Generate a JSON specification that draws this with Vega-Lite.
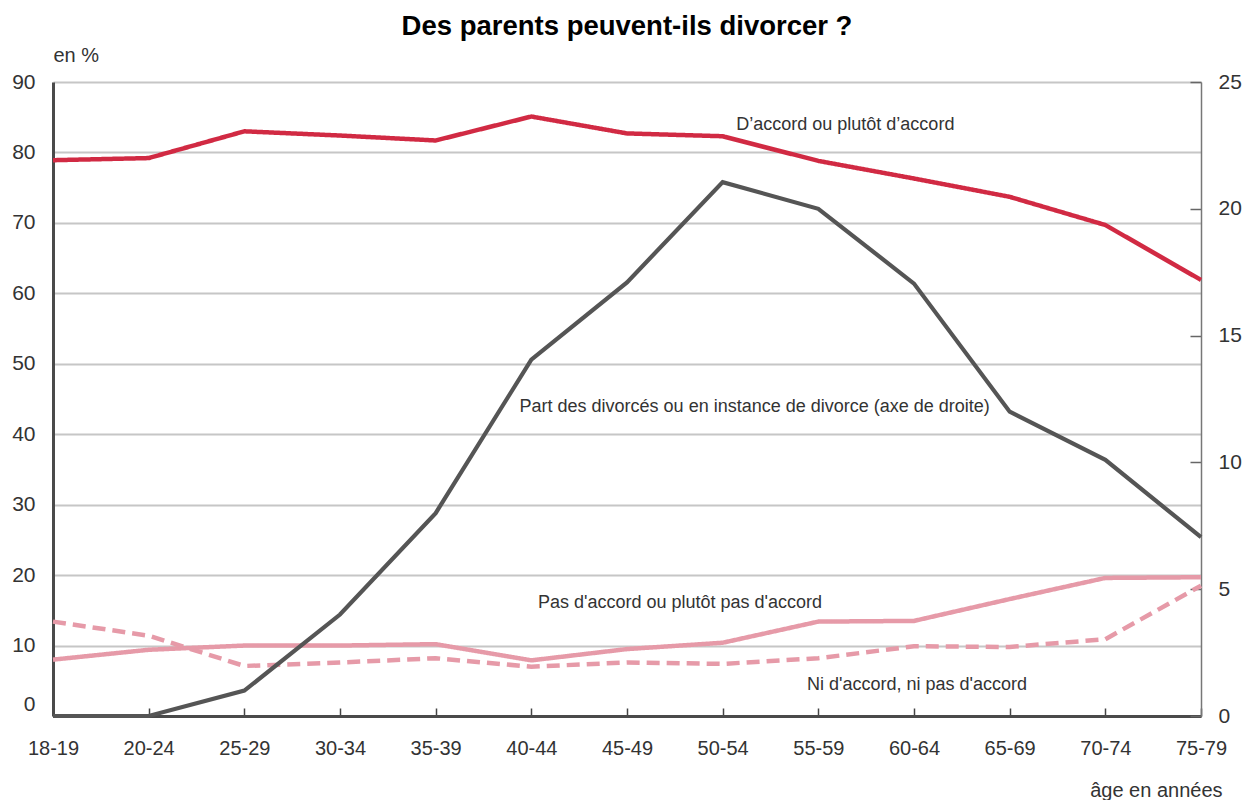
{
  "$schema": "https://vega.github.io/schema/vega-lite/v6.json",
  "width": 1148,
  "height": 634,
  "autosize": {"type": "none"},
  "padding": {"left": 53, "top": 82, "right": 42, "bottom": 84},
  "background": "white",
  "config": {"view": {"stroke": null}, "font": "Liberation Sans"},
  "title": {
    "text": "Des parents peuvent-ils divorcer ?",
    "anchor": "middle",
    "frame": "group",
    "baseline": "middle",
    "offset": 0,
    "dy": 9,
    "font": "Liberation Sans",
    "fontSize": 27.5,
    "fontWeight": "bold",
    "color": "#000000"
  },
  "datasets": {
    "opinions": [
      {"age": "18-19", "series": "D'accord ou plutôt d'accord", "value": 78.9},
      {"age": "20-24", "series": "D'accord ou plutôt d'accord", "value": 79.2},
      {"age": "25-29", "series": "D'accord ou plutôt d'accord", "value": 83.0},
      {"age": "30-34", "series": "D'accord ou plutôt d'accord", "value": 82.4},
      {"age": "35-39", "series": "D'accord ou plutôt d'accord", "value": 81.7},
      {"age": "40-44", "series": "D'accord ou plutôt d'accord", "value": 85.1},
      {"age": "45-49", "series": "D'accord ou plutôt d'accord", "value": 82.7},
      {"age": "50-54", "series": "D'accord ou plutôt d'accord", "value": 82.3},
      {"age": "55-59", "series": "D'accord ou plutôt d'accord", "value": 78.8},
      {"age": "60-64", "series": "D'accord ou plutôt d'accord", "value": 76.3},
      {"age": "65-69", "series": "D'accord ou plutôt d'accord", "value": 73.7},
      {"age": "70-74", "series": "D'accord ou plutôt d'accord", "value": 69.7},
      {"age": "75-79", "series": "D'accord ou plutôt d'accord", "value": 61.9},
      {"age": "18-19", "series": "Pas d'accord ou plutôt pas d'accord", "value": 8.0},
      {"age": "20-24", "series": "Pas d'accord ou plutôt pas d'accord", "value": 9.4},
      {"age": "25-29", "series": "Pas d'accord ou plutôt pas d'accord", "value": 10.0},
      {"age": "30-34", "series": "Pas d'accord ou plutôt pas d'accord", "value": 10.0},
      {"age": "35-39", "series": "Pas d'accord ou plutôt pas d'accord", "value": 10.2},
      {"age": "40-44", "series": "Pas d'accord ou plutôt pas d'accord", "value": 7.9},
      {"age": "45-49", "series": "Pas d'accord ou plutôt pas d'accord", "value": 9.5},
      {"age": "50-54", "series": "Pas d'accord ou plutôt pas d'accord", "value": 10.4},
      {"age": "55-59", "series": "Pas d'accord ou plutôt pas d'accord", "value": 13.4},
      {"age": "60-64", "series": "Pas d'accord ou plutôt pas d'accord", "value": 13.5},
      {"age": "65-69", "series": "Pas d'accord ou plutôt pas d'accord", "value": 16.6},
      {"age": "70-74", "series": "Pas d'accord ou plutôt pas d'accord", "value": 19.6},
      {"age": "75-79", "series": "Pas d'accord ou plutôt pas d'accord", "value": 19.7},
      {"age": "18-19", "series": "Ni d'accord, ni pas d'accord", "value": 13.4},
      {"age": "20-24", "series": "Ni d'accord, ni pas d'accord", "value": 11.4},
      {"age": "25-29", "series": "Ni d'accord, ni pas d'accord", "value": 7.1},
      {"age": "30-34", "series": "Ni d'accord, ni pas d'accord", "value": 7.6},
      {"age": "35-39", "series": "Ni d'accord, ni pas d'accord", "value": 8.2},
      {"age": "40-44", "series": "Ni d'accord, ni pas d'accord", "value": 7.0},
      {"age": "45-49", "series": "Ni d'accord, ni pas d'accord", "value": 7.6},
      {"age": "50-54", "series": "Ni d'accord, ni pas d'accord", "value": 7.4},
      {"age": "55-59", "series": "Ni d'accord, ni pas d'accord", "value": 8.2},
      {"age": "60-64", "series": "Ni d'accord, ni pas d'accord", "value": 9.9},
      {"age": "65-69", "series": "Ni d'accord, ni pas d'accord", "value": 9.8},
      {"age": "70-74", "series": "Ni d'accord, ni pas d'accord", "value": 10.9},
      {"age": "75-79", "series": "Ni d'accord, ni pas d'accord", "value": 18.5}
    ],
    "divorce": [
      {"age": "18-19", "share": 0},
      {"age": "20-24", "share": 0},
      {"age": "25-29", "share": 1.0},
      {"age": "30-34", "share": 4.0},
      {"age": "35-39", "share": 8.0},
      {"age": "40-44", "share": 14.05},
      {"age": "45-49", "share": 17.1},
      {"age": "50-54", "share": 21.05},
      {"age": "55-59", "share": 20.0},
      {"age": "60-64", "share": 17.05},
      {"age": "65-69", "share": 12.0},
      {"age": "70-74", "share": 10.1},
      {"age": "75-79", "share": 7.05}
    ],
    "labels": [
      {"age": "55-59", "value": 83.9, "label": "D’accord ou plutôt d’accord"},
      {"age": "50-54", "value": 43.9, "label": "Part des divorcés ou en instance de divorce (axe de droite)"},
      {"age": "45-49", "value": 16.0, "label": "Pas d'accord ou plutôt pas d'accord"},
      {"age": "60-64", "value": 4.4, "label": "Ni d'accord, ni pas d'accord"}
    ]
  },
  "encoding": {
    "x": {
      "field": "age",
      "type": "ordinal",
      "sort": ["18-19", "20-24", "25-29", "30-34", "35-39", "40-44", "45-49", "50-54", "55-59", "60-64", "65-69", "70-74", "75-79"],
      "scale": {"type": "point", "padding": 0},
      "axis": {
        "orient": "bottom",
        "labelAngle": 0,
        "labelFont": "Liberation Sans",
        "labelFontSize": 20,
        "labelColor": "#333333",
        "labelBaseline": "middle",
        "labelPadding": 40,
        "ticks": true,
        "tickSize": -8,
        "tickColor": "#444444",
        "tickWidth": 1.5,
        "domainColor": "#4a4a4a",
        "domainWidth": 3,
        "grid": false,
        "title": "âge en années",
        "titleFont": "Liberation Sans",
        "titleFontSize": 20,
        "titleFontWeight": "normal",
        "titleColor": "#333333",
        "titleAlign": "right",
        "titleBaseline": "middle",
        "titleX": 1169,
        "titleY": 74
      }
    }
  },
  "layer": [
    {
      "encoding": {
        "y": {
          "field": "value",
          "type": "quantitative",
          "scale": {"domain": [0, 90], "nice": false, "zero": true},
          "axis": {
            "orient": "left",
            "values": [0, 10, 20, 30, 40, 50, 60, 70, 80, 90],
            "grid": true,
            "gridColor": "#c6c6c6",
            "gridWidth": 2,
            "ticks": false,
            "domain": true,
            "domainColor": "#4a4a4a",
            "domainWidth": 3,
            "labelFont": "Liberation Sans",
            "labelFontSize": 21,
            "labelColor": "#333333",
            "labelPadding": 18,
            "labelOffset": {"condition": {"test": "datum.value == 0", "value": -12}, "value": 0},
            "title": "en %",
            "titleAngle": 0,
            "titleAlign": "left",
            "titleBaseline": "middle",
            "titleX": 0,
            "titleY": -27,
            "titleFont": "Liberation Sans",
            "titleFontSize": 20,
            "titleFontWeight": "normal",
            "titleColor": "#333333"
          }
        }
      },
      "layer": [
        {
          "data": {"name": "opinions"},
          "mark": {"type": "line", "strokeWidth": 4.5, "strokeCap": "butt"},
          "encoding": {
            "color": {
              "field": "series",
              "type": "nominal",
              "scale": {
                "domain": ["D'accord ou plutôt d'accord", "Pas d'accord ou plutôt pas d'accord", "Ni d'accord, ni pas d'accord"],
                "range": ["#d12a43", "#e69aa8", "#e69aa8"]
              },
              "legend": null
            },
            "strokeDash": {
              "field": "series",
              "type": "nominal",
              "scale": {
                "domain": ["D'accord ou plutôt d'accord", "Pas d'accord ou plutôt pas d'accord", "Ni d'accord, ni pas d'accord"],
                "range": [[1, 0], [1, 0], [13, 7]]
              },
              "legend": null
            }
          }
        },
        {
          "data": {"name": "labels"},
          "transform": [{"filter": "datum.age == '55-59'"}],
          "mark": {"type": "text", "dx": 27, "align": "center", "baseline": "middle", "font": "Liberation Sans", "fontSize": 18, "color": "#333333"},
          "encoding": {"text": {"field": "label"}}
        },
        {
          "data": {"name": "labels"},
          "transform": [{"filter": "datum.age == '50-54'"}],
          "mark": {"type": "text", "dx": 32, "align": "center", "baseline": "middle", "font": "Liberation Sans", "fontSize": 18, "color": "#333333"},
          "encoding": {"text": {"field": "label"}}
        },
        {
          "data": {"name": "labels"},
          "transform": [{"filter": "datum.age == '45-49'"}],
          "mark": {"type": "text", "dx": 53, "align": "center", "baseline": "middle", "font": "Liberation Sans", "fontSize": 18, "color": "#333333"},
          "encoding": {"text": {"field": "label"}}
        },
        {
          "data": {"name": "labels"},
          "transform": [{"filter": "datum.age == '60-64'"}],
          "mark": {"type": "text", "dx": 3, "align": "center", "baseline": "middle", "font": "Liberation Sans", "fontSize": 18, "color": "#333333"},
          "encoding": {"text": {"field": "label"}}
        }
      ]
    },
    {
      "data": {"name": "divorce"},
      "mark": {"type": "line", "strokeWidth": 4.2, "color": "#555555", "strokeCap": "butt"},
      "encoding": {
        "y": {
          "field": "share",
          "type": "quantitative",
          "scale": {"domain": [0, 25], "nice": false, "zero": true},
          "axis": {
            "orient": "right",
            "values": [0, 5, 10, 15, 20, 25],
            "grid": false,
            "ticks": true,
            "tickSize": -11,
            "tickColor": "#666666",
            "tickWidth": 1.5,
            "domain": true,
            "domainColor": "#777777",
            "domainWidth": 1.5,
            "labelFont": "Liberation Sans",
            "labelFontSize": 21,
            "labelColor": "#333333",
            "labelPadding": 28,
            "title": null
          }
        }
      }
    }
  ],
  "resolve": {"scale": {"y": "independent"}}
}
